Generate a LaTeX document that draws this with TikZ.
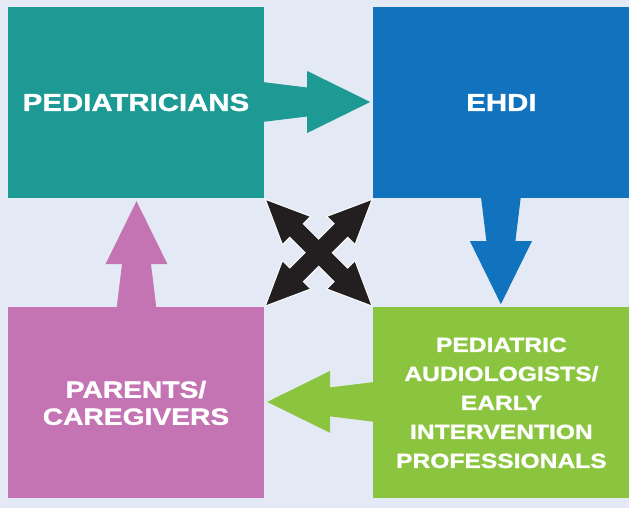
\documentclass[tikz,border=0pt]{standalone}
\usepackage{fontspec}
\newfontfamily\boxfont[FakeStretch=1.2, BoldFeatures={FakeBold=1.2}]{Liberation Sans}
\usetikzlibrary{positioning,calc}

\definecolor{bgcol}{HTML}{E4EAF5}
\definecolor{tealcol}{HTML}{1E9A94}
\definecolor{bluecol}{HTML}{1172BD}
\definecolor{pinkcol}{HTML}{C474B2}
\definecolor{greencol}{HTML}{8BC53F}
\definecolor{darkcol}{HTML}{231F20}

\tikzset{
  box/.style={minimum width=256pt, minimum height=191pt, inner sep=0pt,
    align=center, text=white},
  bigfont/.style={font=\boxfont\bfseries\fontsize{24.5}{28}\selectfont},
  midfont/.style={font=\boxfont\bfseries\fontsize{23.5}{27}\selectfont},
  smallfont/.style={font=\boxfont\bfseries\fontsize{20.5}{29}\selectfont}
}

% fat tapered arrow: start anchor, direction, colour
\newcommand{\fatarrow}[3]{%
  \fill[#3, shift={(#1)}, rotate=#2] (-2,20) -- (43,14.5) -- (43,31) -- (106,0)
    -- (43,-31) -- (43,-14.5) -- (-2,-20) -- cycle;}
% double headed arrow of the cross
\newcommand{\crosspath}{(-74,0) -- (-32,19) -- (-32,9) -- (32,9) -- (32,19) -- (74,0)
    -- (32,-19) -- (32,-9) -- (-32,-9) -- (-32,-19) -- cycle}

\begin{document}
\begin{tikzpicture}[x=1pt, y=1pt]
  \useasboundingbox (0,0) rectangle (629,508);
  \fill[bgcol] (0,0) rectangle (629,508);

  \node[box, bigfont, fill=tealcol] (ped) at (136,405.5) {PEDIATRICIANS};
  \node[box, bigfont, fill=bluecol, right=109pt of ped] (ehdi) {EHDI};
  \node[box, midfont, fill=pinkcol, below=109pt of ped] (par) {PARENTS/\\CAREGIVERS};
  \node[box, smallfont, fill=greencol, below=109pt of ehdi] (aud)
    {PEDIATRIC\\AUDIOLOGISTS/\\EARLY\\INTERVENTION\\PROFESSIONALS};

  \fatarrow{$(ped.east)+(0,0.5)$}{0}{tealcol}
  \fatarrow{$(ehdi.south)+(-0.5,0)$}{-90}{bluecol}
  \fatarrow{$(aud.west)+(0,1)$}{180}{greencol}
  \fatarrow{$(par.north)+(0.5,0)$}{90}{pinkcol}

  % centre cross
  \coordinate (mid) at ($(ped.south east)!0.5!(aud.north west)$);
  \foreach \ang in {45,-45}
    \draw[white, line width=2pt, shift={(mid)}, rotate=\ang] \crosspath;
  \foreach \ang in {45,-45}
    \fill[darkcol, shift={(mid)}, rotate=\ang] \crosspath;
\end{tikzpicture}
\end{document}
